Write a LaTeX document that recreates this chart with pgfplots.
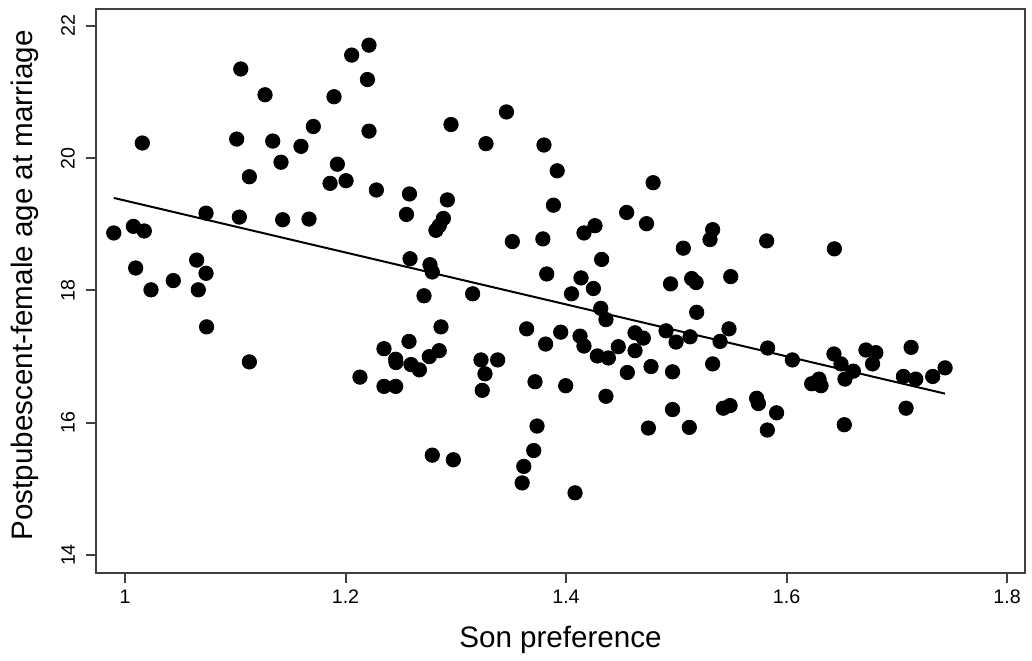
\documentclass[border=0pt]{standalone}
\usepackage{pgfplots}
\pgfplotsset{compat=1.18}
\usepackage{fontspec}
\setmainfont{Liberation Sans}
\usetikzlibrary{calc}

\begin{document}
\begin{tikzpicture}
\begin{axis}[
  name=ax,
  scale only axis,
  width=464.5pt, height=282pt,
  xmin=0.9737, xmax=1.8163,
  ymin=13.728, ymax=22.257,
  xtick={1,1.2,1.4,1.6,1.8},
  ytick={14,16,18,20,22},
  xticklabels={1,1.2,1.4,1.6,1.8},
  yticklabels={14,16,18,20,22},
  /pgf/number format/assume math mode=true,
  tick align=outside,
  major tick length=5pt,
  xtick pos=bottom, ytick pos=left,
  axis line style={black!75, line width=1pt},
  tick style={black!75, line width=1pt},
  ticklabel style={font=\fontsize{9.8}{11}\selectfont},
  yticklabel style={rotate=90, anchor=south, yshift=2pt},
  xlabel={Son preference},
  ylabel={Postpubescent-female age at marriage},
  label style={font=\fontsize{14.8}{17}\selectfont},
  xlabel style={at={(axis description cs:0.5,0)}, anchor=center, yshift=-33.5pt},
  ylabel style={at={(axis description cs:0,0.51)}, anchor=center, rotate=0, yshift=35.5pt},
]
\addplot[only marks, mark=*, mark size=3.6pt, black] coordinates {
(0.9898,18.87) (1.0076,18.97) (1.0175,18.90) (1.0157,20.23) (1.0097,18.34)
(1.0236,18.01) (1.0438,18.15) (1.0650,18.46) (1.0735,18.26) (1.0665,18.01)
(1.0735,19.17) (1.0740,17.45) (1.1037,19.11) (1.1013,20.29) (1.1050,21.35)
(1.1270,20.96) (1.1128,19.72) (1.1340,20.26) (1.1415,19.94) (1.1430,19.07)
(1.1596,20.18) (1.1708,20.48) (1.1669,19.08) (1.1896,20.93) (1.1926,19.91)
(1.1860,19.62) (1.2005,19.66) (1.1128,16.92)
(1.2213,21.71) (1.2056,21.56) (1.2199,21.19) (1.2213,20.41) (1.2280,19.52)
(1.2580,19.46) (1.2553,19.15) (1.2924,19.37) (1.2888,19.09) (1.2850,18.98)
(1.2820,18.91) (1.2957,20.51) (1.3274,20.22) (1.3460,20.70) (1.3800,20.20)
(1.3920,19.81) (1.3886,19.29) (1.3513,18.74) (1.3790,18.78) (1.4790,19.63)
(1.4550,19.18) (1.4730,19.01) (1.4263,18.98) (1.4163,18.87) (1.4323,18.47)
(1.4136,18.19) (1.4248,18.03) (1.4050,17.95) (1.3825,18.25) (1.2585,18.48)
(1.2766,18.39) (1.2787,18.28) (1.2712,17.92) (1.3153,17.95) (1.4315,17.73)
(1.4362,17.56) (1.4948,18.10)
(1.5330,18.92) (1.5306,18.77) (1.5064,18.64) (1.5820,18.75) (1.6434,18.63)
(1.5140,18.18) (1.5180,18.12) (1.5494,18.21) (1.5185,17.67)
(1.2866,17.45) (1.2576,17.23) (1.2349,17.12) (1.2455,16.96) (1.2458,16.91)
(1.2594,16.88) (1.2670,16.80) (1.2760,17.00) (1.2850,17.09) (1.2131,16.69)
(1.2349,16.55) (1.2455,16.55) (1.3229,16.95) (1.3380,16.95) (1.3265,16.74)
(1.3240,16.49) (1.3643,17.42) (1.3815,17.19) (1.3719,16.62) (1.3997,16.56)
(1.3952,17.37) (1.4127,17.31) (1.4163,17.16) (1.4284,17.01) (1.4384,16.98)
(1.4474,17.15) (1.4626,17.36) (1.4701,17.28) (1.4626,17.09) (1.4556,16.76)
(1.4771,16.85) (1.4362,16.40) (1.4747,15.92) (1.4966,16.77) (1.4966,16.20)
(1.4907,17.39) (1.3737,15.95) (1.3707,15.58) (1.3617,15.34) (1.3602,15.09)
(1.2787,15.51) (1.2978,15.44) (1.4082,14.94)
(1.4998,17.22) (1.5125,17.30) (1.5397,17.23) (1.5478,17.42) (1.5330,16.89)
(1.5118,15.93) (1.5427,16.22) (1.5488,16.26) (1.5729,16.37) (1.5745,16.29)
(1.5910,16.15) (1.5826,15.89) (1.5829,17.13) (1.6053,16.95) (1.6430,17.04)
(1.6494,16.89) (1.6606,16.78) (1.6530,16.66) (1.6228,16.59) (1.6295,16.66)
(1.6313,16.56) (1.6524,15.97) (1.6720,17.10) (1.6810,17.06) (1.6780,16.89)
(1.7130,17.14) (1.7060,16.70) (1.7172,16.66) (1.7084,16.22) (1.7326,16.70)
(1.7438,16.83)
};
\addplot[black, line width=1pt] coordinates {(0.9898,19.40) (1.7438,16.44)};
\end{axis}
\path ($(ax.south west)+(-48pt,-43pt)$) rectangle ($(ax.north east)+(3.5pt,4.5pt)$);
\end{tikzpicture}
\end{document}
